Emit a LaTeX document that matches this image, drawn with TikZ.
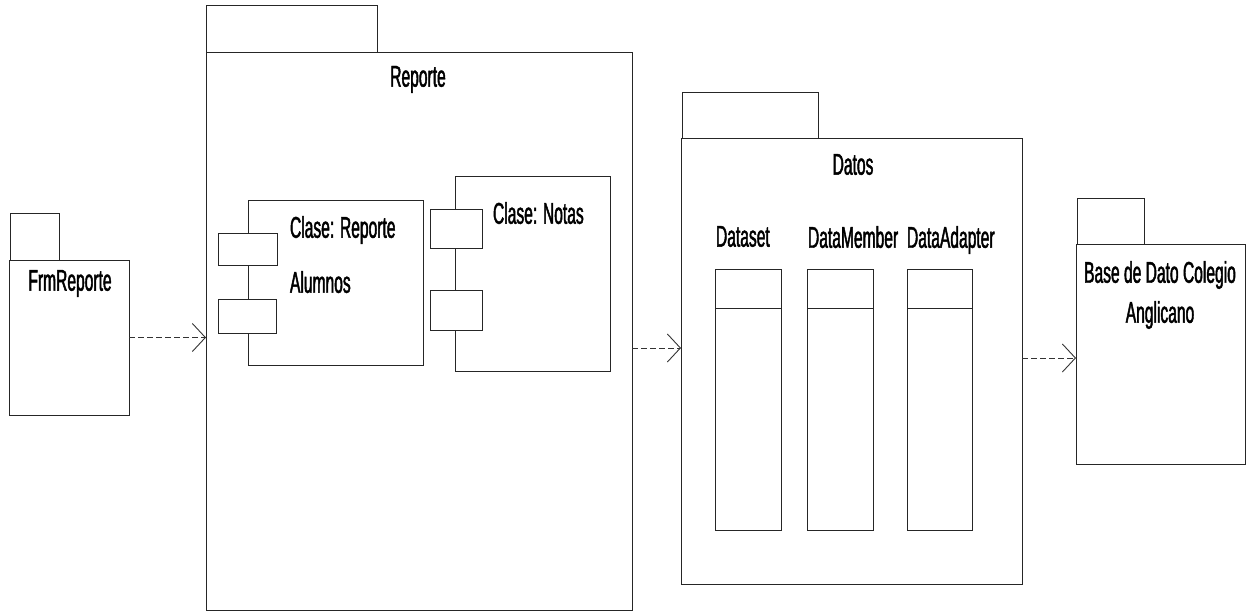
\documentclass[tikz,border=0pt]{standalone}
\usepackage{fontspec}
\setmainfont{Liberation Sans}[FakeStretch=0.52,FakeBold=1.5]
\usetikzlibrary{arrows.meta}
\begin{document}
\begin{tikzpicture}[x=1pt,y=-1pt,
  box/.style={draw=black!85, line width=0.8pt, fill=white, inner sep=0pt, outer sep=0pt, anchor=north west},
  lbl/.style={inner sep=0pt, outer sep=0pt, font=\fontsize{30}{40}\selectfont, text=black},
  dep/.style={draw=black!80, line width=0.8pt, dash pattern=on 6pt off 3pt,
    -{Straight Barb[length=13pt,width=28pt,line width=0.9pt]}}]
\useasboundingbox (0,0) rectangle (1248,613);
% FrmReporte package
\node[box, minimum width=49, minimum height=47] (frmtab) at (10,213) {};
\node[box, minimum width=120, minimum height=155] (frm) at (9,260) {};
\node[lbl, anchor=north] (frmlbl) at (70,270) {FrmReporte};
% Reporte package
\node[box, minimum width=171, minimum height=47] (reptab) at (206,5) {};
\node[box, minimum width=426, minimum height=558] (rep) at (206,52) {};
\node[lbl, anchor=north] (replbl) at (418,66) {Reporte};
% Component: Clase Reporte Alumnos
\node[box, minimum width=175, minimum height=165] (c1) at (248,200) {};
\node[box, minimum width=59, minimum height=32] (c1p1) at (218,233) {};
\node[box, minimum width=58, minimum height=34] (c1p2) at (218,299) {};
\node[lbl, anchor=north west, align=left] (c1lbl) at (290,216) {Clase: Reporte\\[15pt]Alumnos};
% Component: Clase Notas
\node[box, minimum width=155, minimum height=195] (c2) at (455,176) {};
\node[box, minimum width=52, minimum height=39] (c2p1) at (430,209) {};
\node[box, minimum width=52, minimum height=40] (c2p2) at (430,290) {};
\node[lbl, anchor=north west] (c2lbl) at (493,202) {Clase: Notas};
% Datos package
\node[box, minimum width=136, minimum height=46] (dattab) at (682,92) {};
\node[box, minimum width=341, minimum height=446] (dat) at (681,138) {};
\node[lbl, anchor=north] (datlbl) at (853,154) {Datos};
\node[lbl, anchor=north west] (dslbl) at (716,226) {Dataset};
\node[lbl, anchor=north west] (dmlbl) at (808,226) {DataMember};
\node[lbl, anchor=north west] (dalbl) at (907,226) {DataAdapter};
\node[box, minimum width=66, minimum height=261] (ds) at (715,269) {};
\node[box, minimum width=66, minimum height=261] (dm) at (807,269) {};
\node[box, minimum width=65, minimum height=261] (da) at (907,269) {};
\foreach \c in {ds,dm,da}{
  \draw[draw=black!85, line width=0.8pt] (\c.north west) ++(0,39) -- ++(0,0) -| (\c.north east |- 0,308);
}
% Base de Dato package
\node[box, minimum width=67, minimum height=46] (basetab) at (1077,198) {};
\node[box, minimum width=169, minimum height=220] (base) at (1076,244) {};
\node[lbl, anchor=north, align=center] (baselbl) at (1160,261) {Base de Dato Colegio\\Anglicano};
% Dependencies
\draw[dep] (frm.east) -- (frm.east -| rep.west);
\path (rep.east) ++(0,17) coordinate (a2s);
\draw[dep] (a2s) -- (a2s -| dat.west);
\path (dat.east) ++(0,-3) coordinate (a3s);
\draw[dep] (a3s) -- (a3s -| base.west);
\end{tikzpicture}
\end{document}
